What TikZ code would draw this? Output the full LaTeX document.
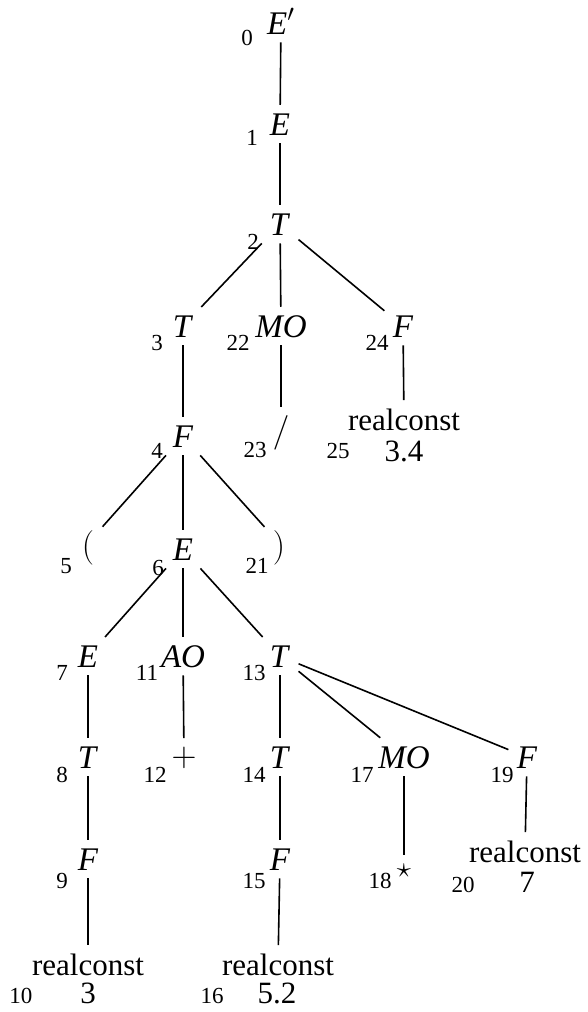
\documentclass[tikz,border=0pt]{standalone}
\usepackage[no-math]{fontspec}
\setmainfont{Liberation Serif}
\usetikzlibrary{positioning}

\begin{document}
\begin{tikzpicture}[x=0.5pt,y=-0.5pt,
  sym/.style={inner sep=4pt,text depth=0pt,anchor=base,font=\fontsize{16.5}{19}\selectfont},
  term/.style={sym,font=\fontsize{15.5}{18}\selectfont},
  op/.style={sym,font=\fontsize{17.28}{20}\selectfont},
  idx/.style={inner sep=0pt,anchor=base,font=\fontsize{11.5}{13}\selectfont},
  edge/.style={line width=0.8pt}]
  \useasboundingbox (0,0) rectangle (588,1012);
  % tree symbols (x, baseline)
  \node[sym] (n0)  at (281,34)  {\textit{E}$'$};
  \node[sym] (n1)  at (280,135) {\textit{E}};
  \node[sym] (n2)  at (280,235) {\textit{T}};
  \node[sym] (n3)  at (183,337) {\textit{T}};
  \node[sym] (n22) at (281,337) {\textit{MO}};
  \node[sym] (n24) at (403,337) {\textit{F}};
  \node[op] (n23) at (281,441) {$/$};
  \node[term] (n25) at (404,430) {realconst};
  \node[term] (v25) at (404,461) {3.4};
  \node[sym] (n4)  at (183,447) {\textit{F}};
  \node[op] (n5)  at (88,556)  {$($};
  \node[sym] (n6)  at (183,560) {\textit{E}};
  \node[op] (n21) at (279,556) {$)$};
  \node[sym] (n7)  at (88,667)  {\textit{E}};
  \node[sym] (n11) at (183,667) {\textit{AO}};
  \node[sym] (n13) at (280,667) {\textit{T}};
  \node[sym] (n8)  at (88,768)  {\textit{T}};
  \node[op] (n12) at (184,766) {$+$};
  \node[sym] (n14) at (280,768) {\textit{T}};
  \node[sym] (n17) at (404,768) {\textit{MO}};
  \node[sym] (n19) at (527,768) {\textit{F}};
  \node[sym] (n9)  at (88,870)  {\textit{F}};
  \node[sym] (n15) at (280,870) {\textit{F}};
  \node[term] (n18) at (404,877) {$\star$};
  \node[term] (n20) at (525,862) {realconst};
  \node[term] (v20) at (527,892) {7};
  \node[term] (n10) at (88,975) {realconst};
  \node[term] (v10) at (88,1003) {3};
  \node[term] (n16) at (278,975) {realconst};
  \node[term] (v16) at (277,1003) {5.2};
  % node numbers
  \node[idx] (i0)  at (247,46)   {0};
  \node[idx] (i1)  at (252,145)  {1};
  \node[idx] (i2)  at (253,249)  {2};
  \node[idx] (i3)  at (157,350)  {3};
  \node[idx] (i22) at (238,350)  {22};
  \node[idx] (i24) at (377,350)  {24};
  \node[idx] (i23) at (255,457)  {23};
  \node[idx] (i25) at (338,458)  {25};
  \node[idx] (i4)  at (157,458)  {4};
  \node[idx] (i5)  at (66,573)   {5};
  \node[idx] (i6)  at (158,575)  {6};
  \node[idx] (i21) at (257,573)  {21};
  \node[idx] (i7)  at (62,680)   {7};
  \node[idx] (i11) at (147,680)  {11};
  \node[idx] (i13) at (254,680)  {13};
  \node[idx] (i8)  at (62,782)   {8};
  \node[idx] (i12) at (155,782)  {12};
  \node[idx] (i14) at (254,782)  {14};
  \node[idx] (i17) at (362,782)  {17};
  \node[idx] (i19) at (502,782)  {19};
  \node[idx] (i9)  at (62,888)   {9};
  \node[idx] (i15) at (254,888)  {15};
  \node[idx] (i18) at (380,888)  {18};
  \node[idx] (i20) at (463,892)  {20};
  \node[idx] (i10) at (21,1003)  {10};
  \node[idx] (i16) at (212,1003) {16};
  % edges
  \draw[edge] (n0) -- (n1);
  \draw[edge] (n1) -- (n2);
  \draw[edge] (n2) -- (n3);
  \draw[edge] (n2) -- (n22);
  \draw[edge] (n2) -- (n24);
  \draw[edge] (n22) -- (n23);
  \draw[edge] (n24) -- (n25);
  \draw[edge] (n3) -- (n4);
  \draw[edge] (n4) -- (n5);
  \draw[edge] (n4) -- (n6);
  \draw[edge] (n4) -- (n21);
  \draw[edge] (n6) -- (n7);
  \draw[edge] (n6) -- (n11);
  \draw[edge] (n6) -- (n13);
  \draw[edge] (n7) -- (n8);
  \draw[edge] (n8) -- (n9);
  \draw[edge] (n9) -- (n10);
  \draw[edge] (n11) -- (n12);
  \draw[edge] (n13) -- (n14);
  \draw[edge] (n13) -- (n17);
  \draw[edge] (n13) -- (n19);
  \draw[edge] (n14) -- (n15);
  \draw[edge] (n15) -- (n16);
  \draw[edge] (n17) -- (n18);
  \draw[edge] (n19) -- (n20);
\end{tikzpicture}
\end{document}
